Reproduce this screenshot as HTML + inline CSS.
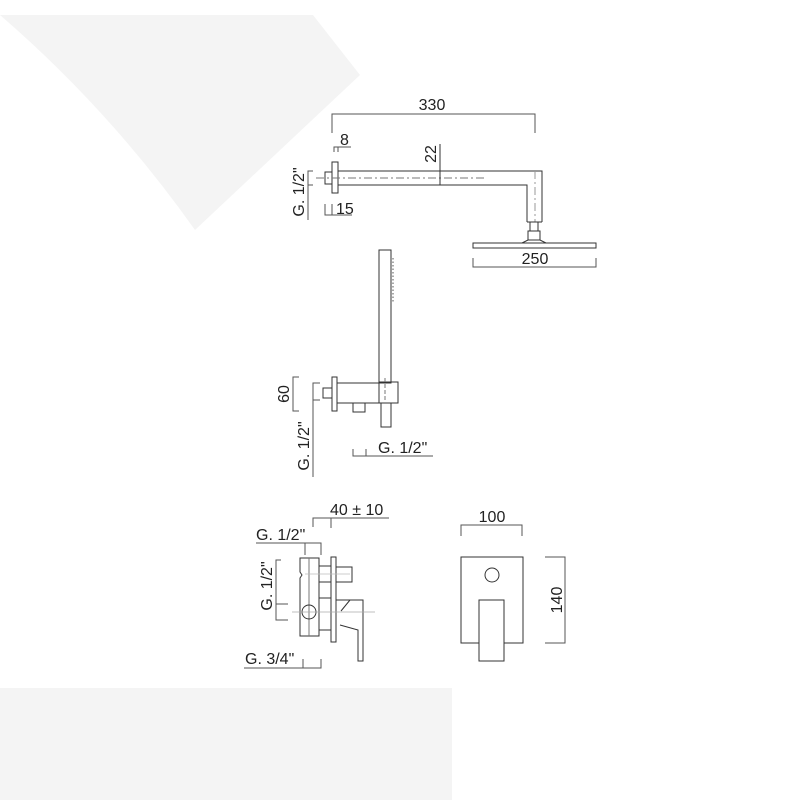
<!DOCTYPE html>
<html><head><meta charset="utf-8"><style>
html,body{margin:0;padding:0;background:#fff;}
svg{display:block;}
text{font-family:"Liberation Sans",sans-serif;font-size:16px;fill:#222;}
</style></head><body>
<svg width="800" height="800" viewBox="0 0 800 800" xmlns="http://www.w3.org/2000/svg">
<path d="M0,15 L313,15 L360,75 L195,230 Q110,110 0,15 Z" fill="#f4f4f4"/>
<rect x="0" y="688" width="452" height="112" fill="#f4f4f4"/>
<g fill="none" stroke="#333" stroke-width="1">
<polyline points="332,133 332,114 535,114 535,133" stroke="#555"/>
<polyline points="334,152 334,147 351,147" stroke="#555"/><line x1="338" y1="147" x2="338" y2="152" stroke="#555"/>
<rect x="332" y="162" width="6" height="31"/>
<rect x="325" y="172" width="7" height="12"/>
<polyline points="338,171 542,171 542,222"/>
<polyline points="338,185 527,185 527,222"/>
<line x1="527" y1="222" x2="542" y2="222"/>
<line x1="316" y1="178" x2="485" y2="178" stroke="#777" stroke-dasharray="8,3,2,3"/>
<line x1="535" y1="171" x2="535" y2="222" stroke="#999" stroke-dasharray="8,3,2,3"/>
<line x1="440" y1="144" x2="440" y2="185"/>
<polyline points="313,171 308,171 308,220" stroke="#555"/><line x1="308" y1="185" x2="313" y2="185" stroke="#555"/>
<polyline points="325,204 325,215 352,215" stroke="#555"/><line x1="332" y1="204" x2="332" y2="215" stroke="#555"/>
<rect x="530" y="222" width="8" height="9"/>
<rect x="528" y="231" width="12" height="9"/>
<path d="M522,243 L528,240 L540,240 L546,243"/>
<rect x="473" y="243" width="123" height="5"/>
<polyline points="473,258 473,267 596,267 596,258" stroke="#555"/>
<rect x="379" y="250" width="12" height="133"/>
<line x1="393" y1="258" x2="393" y2="302" stroke="#555" stroke-dasharray="1.5,2"/>
<rect x="379" y="382" width="19" height="21"/>
<rect x="381" y="403" width="10" height="24"/>
<line x1="385" y1="378" x2="385" y2="402" stroke="#777" stroke-dasharray="4,2"/>
<rect x="332" y="377" width="5" height="34"/>
<rect x="337" y="383" width="42" height="20"/>
<rect x="323" y="388" width="9" height="10"/>
<rect x="353" y="403" width="12" height="9"/>
<polyline points="299,377 293,377 293,411 299,411" stroke="#555"/>
<polyline points="320,383 313,383 313,477" stroke="#555"/><line x1="313" y1="400" x2="320" y2="400" stroke="#555"/>
<polyline points="353,449 353,456 433,456" stroke="#555"/><line x1="366" y1="449" x2="366" y2="456" stroke="#555"/>
<polyline points="313,527 313,518 389,518" stroke="#555"/><line x1="331" y1="518" x2="331" y2="528" stroke="#555"/>
<polyline points="256,543 321,543 321,555" stroke="#555"/><line x1="305" y1="543" x2="305" y2="555" stroke="#555"/>
<path d="M300,558 L319,558 L319,636 L300,636 L300,578 L302,575 L300,572 Z"/>
<line x1="309" y1="558" x2="309" y2="636" stroke="#777"/>
<rect x="331" y="557" width="5" height="85"/>
<rect x="319" y="566" width="12" height="16"/>
<rect x="336" y="567" width="16" height="15"/>
<rect x="319" y="598" width="12" height="32"/>
<path d="M336,600 L363,600 L363,661 L358,661 L358,630 L340,625"/>
<line x1="341" y1="611" x2="350" y2="600"/>
<circle cx="309" cy="612" r="7"/>
<line x1="292" y1="612" x2="375" y2="612" stroke="#aaa" stroke-width="0.8"/>
<line x1="305" y1="574" x2="350" y2="574" stroke="#bbb" stroke-width="0.8"/>
<polyline points="281,560 276,560 276,620 288,620" stroke="#555"/><line x1="276" y1="604" x2="288" y2="604" stroke="#555"/>
<polyline points="244,668 321,668 321,659" stroke="#555"/><line x1="303" y1="659" x2="303" y2="668" stroke="#555"/>
<polyline points="461,536 461,525 522,525 522,536" stroke="#555"/>
<rect x="461" y="557" width="62" height="86"/>
<circle cx="492" cy="575" r="7"/>
<rect x="479" y="600" width="25" height="61" fill="#fff"/>
<polyline points="545,557 565,557 565,643 545,643" stroke="#555"/>
</g>
<text x="432" y="110" text-anchor="middle">330</text>
<text x="340" y="145">8</text>
<text x="336" y="214">15</text>
<text x="535" y="264" text-anchor="middle">250</text>
<text transform="translate(436,154) rotate(-90)" text-anchor="middle">22</text>
<text transform="translate(304,192) rotate(-90)" text-anchor="middle">G. 1/2"</text>
<text transform="translate(289,394) rotate(-90)" text-anchor="middle">60</text>
<text transform="translate(309,446) rotate(-90)" text-anchor="middle">G. 1/2"</text>
<text x="378" y="453">G. 1/2"</text>
<text x="330" y="515">40 ± 10</text>
<text x="256" y="540">G. 1/2"</text>
<text transform="translate(272,586) rotate(-90)" text-anchor="middle">G. 1/2"</text>
<text x="245" y="664">G. 3/4"</text>
<text x="492" y="522" text-anchor="middle">100</text>
<text transform="translate(562,600) rotate(-90)" text-anchor="middle">140</text>
</svg>
</body></html>
